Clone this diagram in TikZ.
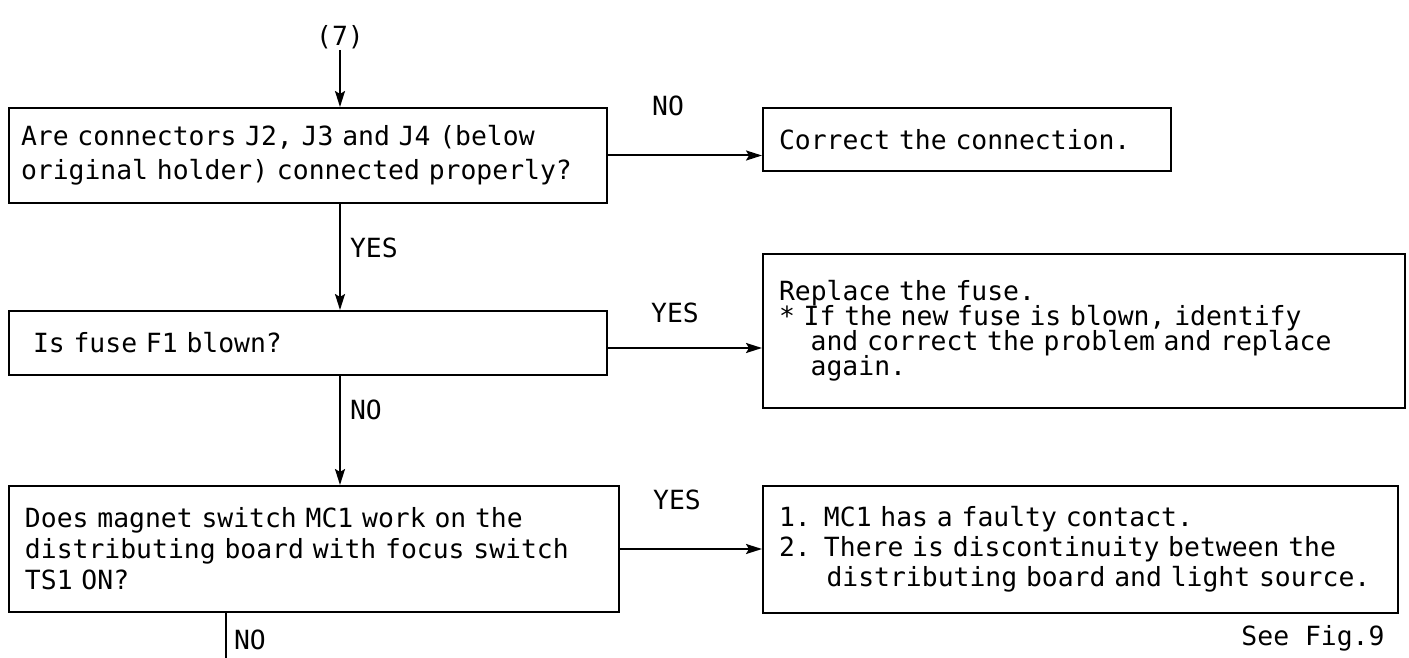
\documentclass[tikz,border=0pt]{standalone}
\usepackage{fontspec}
\setmonofont{DejaVu Sans Mono}
\usepackage{tikz}
\usetikzlibrary{arrows.meta}
\newcommand{\flowfont}[1]{\fontsize{13.2pt}{#1}\ttfamily\lineskiplimit=-20pt
  \spaceskip=\fontcharwd\font`a plus 0pt minus 0pt\xspaceskip=\spaceskip\relax}

\begin{document}
\begin{tikzpicture}[x=0.5pt,y=-0.5pt,line width=1pt,font=\flowfont{16pt},
  box/.style={draw,anchor=north west,align=left,inner xsep=8pt,inner ysep=0pt},
  lbl/.style={inner sep=0pt},
  flow/.style={-{Stealth[length=8pt,width=5pt,inset=1.5pt]}}]
  \useasboundingbox (0,0) rectangle (1409,658);
  \node[lbl] (seven) at (340,37) {(7)};
  \node[box,inner xsep=6pt,text width=287pt,minimum height=47.5pt,font=\flowfont{17pt}] (q1) at (8,107)
    {Are connectors J2, J3 and J4 (below\\original holder) connected properly?};
  \node[box,text width=188pt,minimum height=31.5pt] (a1) at (762,107) {Correct the connection.};
  \node[box,inner xsep=12pt,text width=275pt,minimum height=32pt] (q2) at (8,310) {Is fuse F1 blown?};
  \node[box,text width=305pt,minimum height=77pt,font=\flowfont{12.5pt}] (a2) at (762,253)
    {Replace the fuse.\\{*} If the new fuse is blown, identify\\
     \hspace*{1.2em}and correct the problem and replace\\\hspace*{1.2em}again.};
  \node[box,text width=289pt,minimum height=63pt,font=\flowfont{15.5pt}] (q3) at (8,485)
    {Does magnet switch MC1 work on the\\distributing board with focus switch\\TS1 ON?};
  \node[box,text width=301.5pt,minimum height=63.5pt,font=\flowfont{15pt}] (a3) at (762,485)
    {1. MC1 has a faulty contact.\\2. There is discontinuity between the\\
     \mbox{\hspace*{1.8em}distributing board and light source.}};
  \node[lbl] (no1) at (668,106) {NO};
  \node[lbl,anchor=west] (yes1) at (349,248) {YES};
  \node[lbl] (yes2) at (675,313) {YES};
  \node[lbl,anchor=west] (no2) at (349,410) {NO};
  \node[lbl] (yes3) at (677,500) {YES};
  \node[lbl,anchor=west] (no3) at (233,640) {NO};
  \node[lbl] (fig) at (1313,638) {See Fig.9};
  \coordinate (cont) at (226,658);
  \draw[flow] (seven) -- (seven |- q1.north);
  \draw[flow] (q1.east) -- (q1.east -| a1.west);
  \draw[flow] (seven |- q1.south) -- (seven |- q2.north);
  \draw[flow] ([yshift=-2.5pt]q2.east) -- ([yshift=-2.5pt]q2.east -| a2.west);
  \draw[flow] (seven |- q2.south) -- (seven |- q3.north);
  \draw[flow] (q3.east) -- (q3.east -| a3.west);
  \draw (cont |- q3.south) -- (cont);
\end{tikzpicture}
\end{document}
